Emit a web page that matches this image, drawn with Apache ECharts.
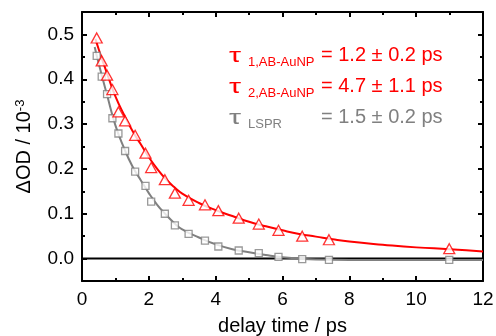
<!DOCTYPE html>
<html>
<head>
<meta charset="utf-8">
<script src="https://cdn.jsdelivr.net/npm/echarts@6/dist/echarts.min.js"></script>
<style>html,body{margin:0;padding:0;background:#fff}#c{width:496px;height:336px}</style>
</head>
<body>
<div id="c"></div>
<script>
// delay times (ps) of measured points
var delays = [0.44, 0.59, 0.75, 0.91, 1.09, 1.29, 1.59, 1.9, 2.07, 2.48, 2.78, 3.19, 3.68, 4.08, 4.69, 5.29, 5.88, 6.59, 7.39, 10.99];
// AB-AuNP data (red triangles)
var abY = [0.492, 0.441, 0.409, 0.377, 0.327, 0.307, 0.275, 0.235, 0.203, 0.176, 0.146, 0.130, 0.120, 0.107, 0.090, 0.077, 0.063, 0.050, 0.042, 0.022];
// LSPR data (gray squares)
var lsprY = [0.452, 0.406, 0.367, 0.313, 0.279, 0.240, 0.194, 0.162, 0.127, 0.100, 0.074, 0.055, 0.040, 0.027, 0.018, 0.012, 0.004, -0.001, -0.003, -0.003];
// fit curve (red)
var abFitX = [0.4, 0.5, 0.6, 0.8, 1.0, 1.25, 1.5, 1.75, 2.0, 2.25, 2.5, 2.75, 3.0, 3.5, 4.0, 4.5, 5.0, 5.5, 6.0, 6.5, 7.0, 7.5, 8.0, 9.0, 10.0, 11.0, 12.0];
var abFitY = [0.490, 0.467, 0.445, 0.402, 0.362, 0.322, 0.286, 0.256, 0.226, 0.200, 0.178, 0.160, 0.145, 0.124, 0.108, 0.095, 0.082, 0.072, 0.063, 0.055, 0.049, 0.043, 0.038, 0.031, 0.025, 0.021, 0.016];
// fit curve (gray)
var lsprFitX = [0.38, 0.5, 0.75, 1.0, 1.25, 1.5, 1.75, 2.0, 2.25, 2.5, 2.75, 3.0, 3.5, 4.0, 4.5, 5.0, 5.5, 6.0, 6.5, 7.0, 8.0, 9.0, 10.0, 11.0, 12.0];
var lsprFitY = [0.472, 0.435, 0.365, 0.297, 0.248, 0.207, 0.176, 0.146, 0.120, 0.099, 0.080, 0.065, 0.047, 0.032, 0.021, 0.014, 0.008, 0.003, 0.000, -0.002, -0.003, -0.003, -0.003, -0.003, -0.003];
// axis ticks
var yMajor = [0, 0.1, 0.2, 0.3, 0.4, 0.5];
var yMinor = [0.05, 0.15, 0.25, 0.35, 0.45];
var zeroLineX = [0, 12];
var zeroLineY = [0, 0];

function pairs(xs, ys) { return xs.map(function (x, i) { return [x, ys[i]]; }); }

var FONT = 'Liberation Sans, Arial, sans-serif';
var RED = '#ff0000', GRAY = '#808080';

var chart = echarts.init(document.getElementById('c'), null, {renderer: 'canvas'});

function xAx(pos, labels) {
  return {
    type: 'value', position: pos, min: 0, max: 12, interval: 2,
    axisLine: {show: true, onZero: false, lineStyle: {color: '#000', width: 2}},
    axisTick: {show: true, inside: true, length: 5, lineStyle: {color: '#000', width: 2}},
    minorTick: {show: true, splitNumber: 2, length: 3, lineStyle: {color: '#000', width: 2}},
    splitLine: {show: false},
    axisLabel: {show: labels, margin: 9, color: '#000', fontSize: 19, fontFamily: FONT},
    name: labels ? 'delay time / ps' : '',
    nameLocation: 'middle', nameGap: 35,
    nameTextStyle: {color: '#000', fontSize: 20, fontFamily: FONT}
  };
}
function yAx(pos, values, len, labels, line) {
  return {
    type: 'value', position: pos, min: -0.05, max: 0.55,
    axisLine: {show: line, onZero: false, lineStyle: {color: '#000', width: 2}},
    axisTick: {show: true, inside: true, length: len, customValues: values, lineStyle: {color: '#000', width: 2}},
    splitLine: {show: false},
    axisLabel: {show: labels, customValues: values, margin: 8, color: '#000', fontSize: 19, fontFamily: FONT,
      formatter: function (v) { return v.toFixed(1); }},
    name: labels ? '{a|ΔOD / 10}{s|-3}' : '',
    nameLocation: 'middle', nameGap: 48, nameRotate: 90,
    nameTextStyle: {color: '#000', fontFamily: FONT,
      rich: {a: {fontSize: 20, fontFamily: FONT, color: '#000'}, s: {fontSize: 13, fontFamily: FONT, color: '#000', verticalAlign: 'top'}}}
  };
}

function tau(x, y, sub, val, color) {
  return [
    {type: 'text', x: x, y: y - 11, scaleX: 1.45, style: {text: 'τ', fill: color, font: '21px ' + FONT}},
    {type: 'text', x: x + 19, y: y - 1, style: {text: sub, fill: color, font: '13px ' + FONT}},
    {type: 'text', x: 321, y: y - 12, style: {text: val, fill: color, font: '20px ' + FONT}}
  ];
}

var option = {
  animation: false,
  backgroundColor: '#fff',
  grid: {left: 82, right: 13, top: 12, bottom: 55, containLabel: false, outerBoundsMode: 'none'},
  xAxis: [xAx('bottom', true), xAx('top', false)],
  yAxis: [
    yAx('left', yMajor, 5, true, true),
    yAx('right', yMajor, 5, false, true),
    yAx('left', yMinor, 3, false, false),
    yAx('right', yMinor, 3, false, false)
  ],
  series: [
    {type: 'line', data: pairs(zeroLineX, zeroLineY), showSymbol: false, symbol: 'none',
      lineStyle: {color: '#000', width: 2}, z: 1},
    {type: 'line', data: pairs(lsprFitX, lsprFitY), smooth: true, symbol: 'none',
      lineStyle: {color: GRAY, width: 2}, z: 2},
    {type: 'line', data: pairs(abFitX, abFitY), smooth: true, symbol: 'none',
      lineStyle: {color: RED, width: 2}, z: 3},
    {type: 'scatter', data: pairs(delays, lsprY), symbol: 'rect', symbolSize: 7,
      itemStyle: {color: '#fff', borderColor: GRAY, borderWidth: 1.3}, z: 4},
    {type: 'scatter', data: pairs(delays, abY), symbol: 'triangle', symbolSize: [11, 10],
      itemStyle: {color: '#fff', borderColor: RED, borderWidth: 1.3}, z: 5}
  ],
  graphic: [].concat(
    tau(229, 57, '1,AB-AuNP', '= 1.2 ± 0.2 ps', RED),
    tau(229, 88, '2,AB-AuNP', '= 4.7 ± 1.1 ps', RED),
    tau(229, 119, 'LSPR', '= 1.5 ± 0.2 ps', GRAY)
  )
};
chart.setOption(option);
</script>
</body>
</html>
